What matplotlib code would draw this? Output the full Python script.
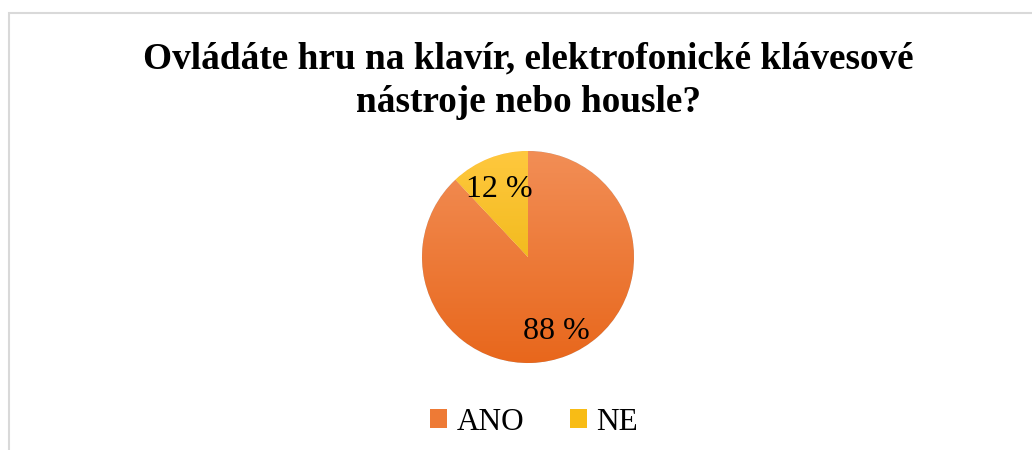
import numpy as np
import matplotlib
matplotlib.use('Agg')
import matplotlib.pyplot as plt
from matplotlib.patches import Rectangle, Patch
from matplotlib.colors import LinearSegmentedColormap

# data
labels = ['ANO', 'NE']
values = [88, 12]
title = 'Ovládáte hru na klavír, elektrofonické klávesové\nnástroje nebo housle?'

# gradient colours per slice (top, bottom)
grad_colors = [('#F28E56', '#E8671C'), ('#FFC83E', '#E6AE00')]
legend_colors = ['#EE7A35', '#F8BC15']

plt.rcParams['font.family'] = ['Liberation Serif', 'DejaVu Serif']

W, H = 1032, 450
fig = plt.figure(figsize=(W / 100, H / 100), dpi=100)

# light frame (cut off at right and bottom)
fig.patches.append(Rectangle((9 / W, -0.1), 1.2, (H - 13) / H + 0.1,
                             transform=fig.transFigure, fill=False,
                             edgecolor='#D9D9D9', linewidth=1.5))

fig.text(528 / W, 1 - 81 / H, title, ha='center', va='center',
         fontsize=26.8, fontweight='bold', linespacing=1.32)

# pie axes: centre (528, 257), radius 106 px
cx, cy, r = 528, 257, 106
ax = fig.add_axes([(cx - r) / W, (H - cy - r) / H, 2 * r / W, 2 * r / H])
wedges, _ = ax.pie(values, startangle=90, counterclock=False, radius=1,
                   wedgeprops=dict(linewidth=0.5, edgecolor='white'))
ax.set_xlim(-1, 1)
ax.set_ylim(-1, 1)
ax.set_aspect('equal')
ax.axis('off')

for w, (top, bot) in zip(wedges, grad_colors):
    cmap = LinearSegmentedColormap.from_list('g', [bot, top])
    grad = np.linspace(0, 1, 256).reshape(-1, 1)
    im = ax.imshow(grad, cmap=cmap, extent=(-1, 1, -1, 1), origin='lower',
                   aspect='auto', zorder=2)
    im.set_clip_path(w)

# percentage labels
label_pos = [(0.27, -0.67), (-0.27, 0.67)]
for v, (x, y) in zip(values, label_pos):
    ax.text(x, y, f'{v} %', ha='center', va='center_baseline', fontsize=23,
            zorder=3)

handles = [Patch(facecolor=c, edgecolor='none') for c in legend_colors]
fig.legend(handles, labels, loc='center', bbox_to_anchor=(534 / W, 1 - 422 / H),
           ncol=2, frameon=False, fontsize=22.5, handlelength=0.55,
           handleheight=0.55, handletextpad=0.3, columnspacing=1.45)

fig.savefig('out.png', dpi=100)
